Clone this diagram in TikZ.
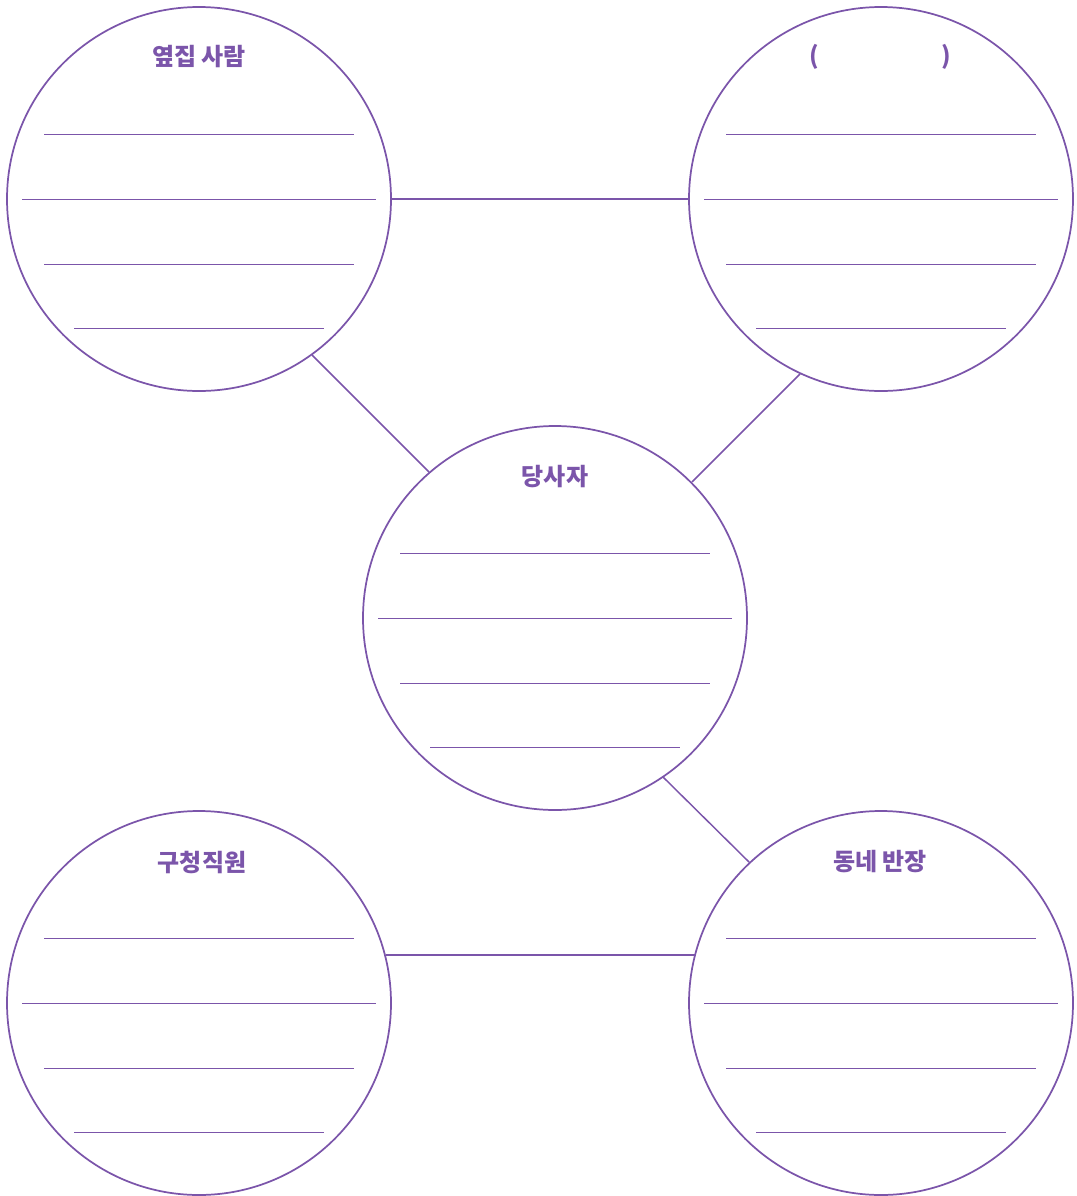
\documentclass[tikz,border=0pt]{standalone}
\usepackage{fontspec}
\newfontfamily\krfont{Noto Sans CJK KR}
\usetikzlibrary{positioning}
\definecolor{mapviolet}{HTML}{7B55AA}

\begin{document}
\begin{tikzpicture}[
    x=0.75pt, y=-0.75pt,
    bubble/.style={draw=mapviolet, line width=1.3pt, circle, minimum size=288pt, inner sep=0pt},
    bubbletitle/.style={text=mapviolet, font=\krfont\bfseries\fontsize{18}{20}\selectfont, inner sep=0pt},
    link/.style={draw=mapviolet, line width=1.1pt},
    writeline/.style={draw=mapviolet, line width=0.75pt}
]
\useasboundingbox (0,0) rectangle (1076,1196);
\node[bubble] (tl) at (199,199) {};
\node[bubble] (tr) at (881,199) {};
\node[bubble] (c) at (555,618) {};
\node[bubble] (bl) at (199,1003) {};
\node[bubble] (br) at (881,1003) {};
\node[bubbletitle] (tlt) at (199,57) {옆집 사람};
\node[bubbletitle] (trt) at (880,57) {(\hspace{5.1em})};
\node[bubbletitle] (ct) at (555,477) {당사자};
\node[bubbletitle] (blt) at (202,862) {구청직원};
\node[bubbletitle] (brt) at (880,862) {동네 반장};
% lines for writing
\foreach \n in {tl,tr,c,bl,br} {
  \draw[writeline] ([shift={(-155,-65)}]\n.center) -- ([shift={(155,-65)}]\n.center);
  \draw[writeline] ([shift={(-177,0)}]\n.center) -- ([shift={(177,0)}]\n.center);
  \draw[writeline] ([shift={(-155,65)}]\n.center) -- ([shift={(155,65)}]\n.center);
  \draw[writeline] ([shift={(-125,129)}]\n.center) -- ([shift={(125,129)}]\n.center);
}
% connectors
\draw[link] (tl) -- (tr);
\draw[link] ([shift={(113,156)}]tl.center) -- ([shift={(-126,-146)}]c.center);
\draw[link] ([shift={(-81,175)}]tr.center) -- ([shift={(137,-136)}]c.center);
\draw[link] ([shift={(108,159)}]c.center) -- ([shift={(-132,-141)}]br.center);
\draw[link] ([shift={(187,-48)}]bl.center) -- ([shift={(-186,-48)}]br.center);
\end{tikzpicture}
\end{document}
